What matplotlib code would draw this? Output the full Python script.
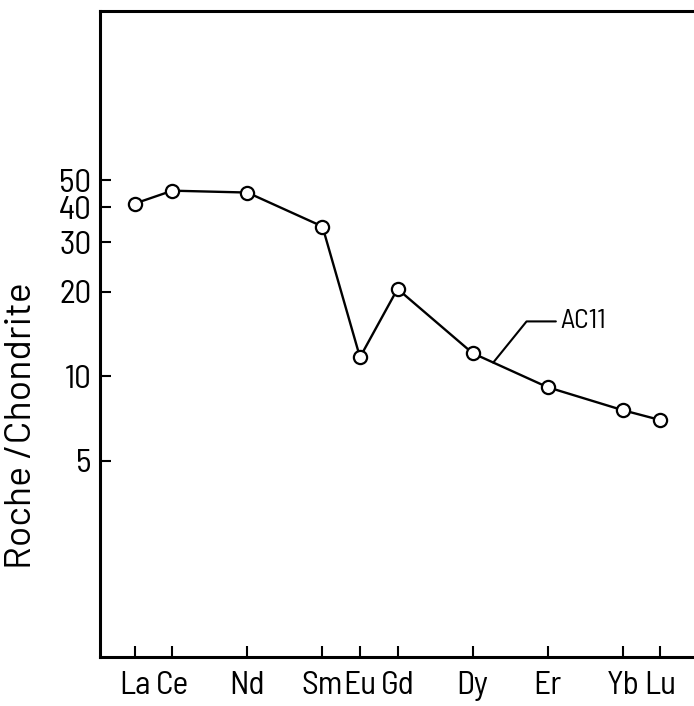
import matplotlib
matplotlib.use("Agg")
import matplotlib.pyplot as plt
from matplotlib import font_manager
from matplotlib.font_manager import FontProperties

elements = ["La", "Ce", "Nd", "Sm", "Eu", "Gd", "Dy", "Er", "Yb", "Lu"]
positions = [0, 1, 3, 5, 6, 7, 9, 11, 13, 14]
values = [41.3, 45.9, 45.2, 34.2, 11.7, 20.5, 12.1, 9.15, 7.58, 6.99]
yticks = [5, 10, 20, 30, 40, 50]
ytick_labels = ["5", "10", "20", "30", "40", "50"]
sample = "AC11"
ylabel = "Roche /Chondrite"


def find_font(prefs):
    for pref in prefs:
        for f in font_manager.fontManager.ttflist:
            if f.fname.endswith("/" + pref):
                return f.fname
    return None


f_narrow = find_font(["BarlowSemiCondensed-Regular.ttf", "BarlowCondensed-Regular.ttf", "DejaVuSansCondensed.ttf"])
f_wide = find_font(["Barlow-Regular.ttf", "BarlowSemiCondensed-Regular.ttf", "DejaVuSansCondensed.ttf"])


def fp(size, fname):
    if fname:
        return FontProperties(fname=fname, size=size)
    return FontProperties(family="DejaVu Sans", size=size)


fig = plt.figure(figsize=(6.94, 7.06), dpi=100)
ax = fig.add_axes([0.144, 0.0694, 0.856, 0.9146])

ax.plot(positions, values, color="black", lw=1.7, marker="o", ms=9.5,
        mfc="white", mec="black", mew=1.6, zorder=3)

ax.set_yscale("log")
ax.set_ylim(1, 200)
ax.set_xlim(-0.93, 14.9)

ax.yaxis.set_minor_locator(matplotlib.ticker.NullLocator())
ax.set_yticks(yticks)
ax.set_yticklabels(ytick_labels, fontproperties=fp(24, f_narrow))
ax.set_xticks(positions)
ax.set_xticklabels(elements, fontproperties=fp(24, f_narrow))

ax.tick_params(axis="both", direction="in", length=8, width=1.5, colors="black")
ax.tick_params(axis="y", pad=6)
ax.tick_params(axis="x", pad=10)

ax.spines["right"].set_visible(False)
for s in ["left", "top", "bottom"]:
    ax.spines[s].set_linewidth(2.2)

ax.set_ylabel(ylabel, fontproperties=fp(27, f_wide))
ax.yaxis.set_label_coords(-0.104, 0.359)

ax.annotate(sample, xy=(9.55, 11.2), xytext=(11.33, 15.7),
            fontproperties=fp(20, f_narrow), va="center", ha="left",
            arrowprops=dict(arrowstyle="-", color="black", lw=1.5,
                            connectionstyle="angle,angleA=0,angleB=51,rad=0",
                            shrinkA=1, shrinkB=0))

fig.savefig("out.png", dpi=100)
